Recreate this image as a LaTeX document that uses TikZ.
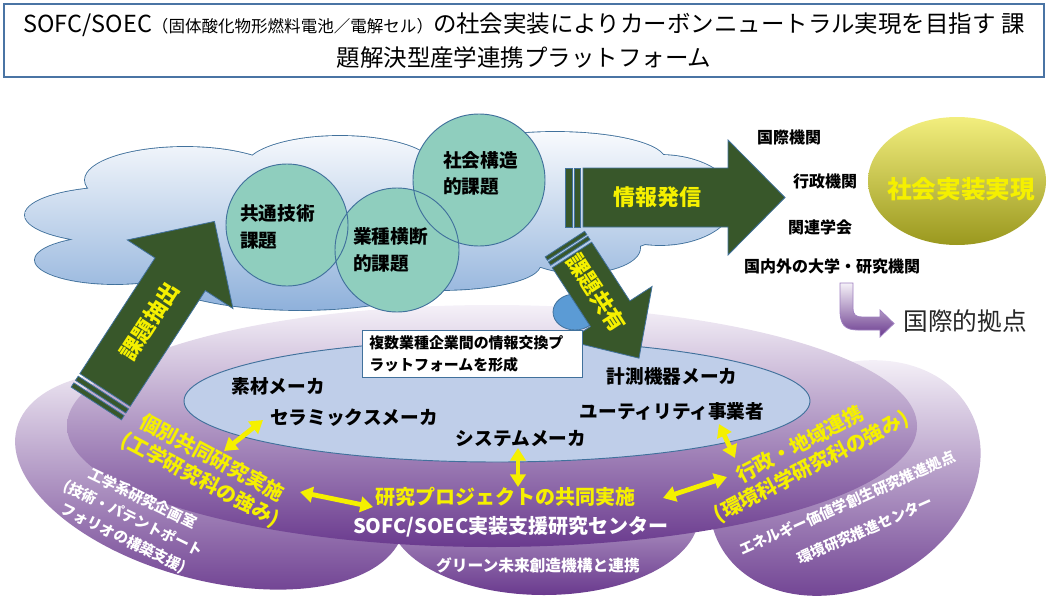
\documentclass[tikz,border=0pt]{standalone}
\usepackage{fontspec}
\setmainfont{Noto Sans CJK JP}
\usetikzlibrary{arrows.meta}
\definecolor{agreen}{HTML}{38572A}
\definecolor{aline}{HTML}{41719C}
\definecolor{ayel}{HTML}{F5F000}
\definecolor{circfill}{HTML}{8FCEBE}
\definecolor{cloudtop}{HTML}{F8FAFD}
\definecolor{cloudbot}{HTML}{8FB1DB}
\definecolor{innerblue}{HTML}{BFCEE9}
\definecolor{purtop}{HTML}{F5F1F8}
\definecolor{purmid}{HTML}{B093C8}
\definecolor{purbot}{HTML}{6A3A8E}
\definecolor{olivetop}{HTML}{F2EE7E}
\definecolor{olivebot}{HTML}{9A981E}
\definecolor{blobblue}{HTML}{5B9BD5}
\definecolor{titleline}{HTML}{4A74A4}
\definecolor{bentline}{HTML}{9F80C0}
\begin{document}
\begin{tikzpicture}[x=0.75pt,y=-0.75pt,
  blockarr/.style={fill=agreen, draw=aline, line width=0.6pt},
  arrtxt/.style={text=ayel, font=\bfseries\fontsize{16.5}{16.5}\selectfont, inner sep=0pt},
  lbl/.style={font=\bfseries\fontsize{14}{20}\selectfont, inner sep=0pt, text=black},
  rlbl/.style={font=\bfseries\fontsize{12}{12}\selectfont, inner sep=0pt, text=black},
  ytxt/.style={font=\bfseries\fontsize{15}{18.5}\selectfont, inner sep=0pt, text=ayel, align=center},
  wtxt/.style={font=\bfseries\fontsize{11}{16.5}\selectfont, inner sep=0pt, text=white, align=center},
  yarr/.style={draw=ayel, line width=3.6pt, {Triangle[length=9.5pt,width=11.5pt]}-{Triangle[length=9.5pt,width=11.5pt]}},
  circ/.style={circle, fill=circfill, inner sep=0pt}
]
\useasboundingbox (0,0) rectangle (1049,596);

% title
\node (title) [draw=titleline, line width=0.8pt, minimum width=780pt, minimum height=54.75pt,
  align=center, font=\fontsize{17.6}{26}\selectfont, inner sep=0pt] at (524,40.5)
  {SOFC/SOEC{\fontsize{12.4}{12}\selectfont （固体酸化物形燃料電池／電解セル）}の社会実装によりカーボンニュートラル実現を目指す 課\\題解決型産学連携プラットフォーム};

% purple lobes
\shade[rotate around={-15:(210,480)}, top color=purtop, middle color=purmid, bottom color=purbot] (210,480) ellipse [x radius=200, y radius=100];
\shade[top color=purtop, middle color=purmid, bottom color=purbot] (544,515) ellipse [x radius=155, y radius=80];
\shade[rotate around={28:(845,478)}, top color=purtop, middle color=purmid, bottom color=purbot] (845,478) ellipse [x radius=142, y radius=110];
% main purple ellipse
\shade[top color=purtop, middle color=purmid, bottom color=purbot] (492,426) ellipse [x radius=425, y radius=121];
% inner blue ellipse
\draw[fill=innerblue, draw=aline, line width=0.7pt] (497,401) ellipse [x radius=313, y radius=61];

% cloud
\draw[aline, line width=1.3pt]
  (120,215) ellipse [x radius=95, y radius=28]
  (185,180) ellipse [x radius=100, y radius=33]
  (340,168) ellipse [x radius=95, y radius=32]
  (555,160) ellipse [x radius=110, y radius=28]
  (660,200) ellipse [x radius=75, y radius=45]
  (580,248) ellipse [x radius=60, y radius=25]
  (115,260) ellipse [x radius=80, y radius=24]
  (300,270) ellipse [x radius=150, y radius=40]
  (440,265) ellipse [x radius=100, y radius=25]
  (400,215) ellipse [x radius=280, y radius=60];
\shade[top color=cloudtop, bottom color=cloudbot]
  (120,215) ellipse [x radius=95, y radius=28]
  (185,180) ellipse [x radius=100, y radius=33]
  (340,168) ellipse [x radius=95, y radius=32]
  (555,160) ellipse [x radius=110, y radius=28]
  (660,200) ellipse [x radius=75, y radius=45]
  (580,248) ellipse [x radius=60, y radius=25]
  (115,260) ellipse [x radius=80, y radius=24]
  (300,270) ellipse [x radius=150, y radius=40]
  (440,265) ellipse [x radius=100, y radius=25]
  (400,215) ellipse [x radius=280, y radius=60];
% small blob
\draw[fill=blobblue, draw=aline, line width=0.6pt] (575,312) ellipse [x radius=22, y radius=18];

% circles
\node (c1) [circ, minimum size=91.5pt] at (287,225) {};
\node (c2) [circ, minimum size=93pt] at (397,250) {};
\node (c3) [circ, minimum size=99pt] at (479,180) {};
\draw[aline, line width=0.7pt] (c1.center) circle [radius=61] (c2.center) circle [radius=62] (c3.center) circle [radius=66];
\node (t1) [lbl, anchor=west, align=left] at (240,227) {共通技術\\課題};
\node (t2) [lbl, anchor=west, align=left] at (353,250) {業種横断\\的課題};
\node (t3) [lbl, anchor=west, align=left] at (443,173.5) {社会構造\\的課題};

% arrow 課題抽出
\begin{scope}[shift={(105,390)}, rotate=57]
  \draw[blockarr] (0,-30) -- (138,-30) -- (138,-63) -- (201,0) -- (138,63) -- (138,30) -- (0,30) -- cycle;
  \draw[blockarr] (-8,-30) rectangle (-3,30);
  \draw[blockarr] (-16,-30) rectangle (-11,30);
  \node (a1t) [arrtxt, rotate=57] at (82,0) {課題抽出};
\end{scope}
% arrow 情報発信
\begin{scope}[shift={(583,197.5)}]
  \draw[blockarr] (0,-29.5) -- (145,-29.5) -- (145,-57.5) -- (202,0) -- (145,57.5) -- (145,29.5) -- (0,29.5) -- cycle;
  \draw[blockarr] (-9,-29.5) rectangle (-3,29.5);
  \draw[blockarr] (-18,-29.5) rectangle (-11,29.5);
  \node (a3t) [arrtxt] at (74,0) {情報発信};
\end{scope}
% arrow 課題共有
\begin{scope}[shift={(572,255)}, rotate=-57]
  \draw[blockarr] (0,-23.5) -- (70,-23.5) -- (70,-50) -- (123,0) -- (70,50) -- (70,23.5) -- (0,23.5) -- cycle;
  \draw[blockarr] (-7,-23.5) rectangle (-3,23.5);
  \draw[blockarr] (-13,-23.5) rectangle (-9,23.5);
  \node (a2t) [arrtxt, rotate=-57] at (45,0) {課題共有};
\end{scope}

% text box
\node (tbox) [draw=aline, fill=white, line width=0.7pt, minimum width=165pt, minimum height=35.25pt, inner sep=0pt] at (472,353.5) {};
\node (tboxt) [anchor=west, align=left, inner sep=0pt, font=\bfseries\fontsize{11.2}{16.5}\selectfont] at (369,354) {複数業種企業間の情報交換プ\\ラットフォームを形成};

% right side
\node (r1) [rlbl] at (789,137) {国際機関};
\node (r2) [rlbl] at (825,181) {行政機関};
\node (r3) [rlbl] at (820,227) {関連学会};
\node (r4) [rlbl] at (832,266) {国内外の大学・研究機関};
\shade[top color=olivetop, bottom color=olivebot] (957,181) ellipse [x radius=89, y radius=64];
\node (soc) [inner sep=0pt, text=ayel, font=\bfseries\fontsize{18.5}{18.5}\selectfont] at (961,189) {社会実装実現};
% bent arrow
\shade[top color=purtop, bottom color=purbot, draw=bentline, line width=0.6pt]
  (840,283) -- (840,310) .. controls (840,325) and (845,330) .. (858,330) -- (880,330) -- (880,337) -- (894,323.5) -- (880,310) -- (880,317) -- (862,317) .. controls (856,317) and (853,315) .. (853,308) -- (853,283) -- cycle;
\node (intl) [inner sep=0pt, text=black!85, font=\fontsize{18.5}{18.5}\selectfont] at (965,321) {国際的拠点};

% inner ellipse labels
\node (m1) [lbl] at (278,386) {素材メーカ};
\node (m2) [lbl] at (354,418) {セラミックスメーカ};
\node (m3) [lbl] at (521,439) {システムメーカ};
\node (m4) [lbl] at (672,376) {計測機器メーカ};
\node (m5) [lbl] at (672,411) {ユーティリティ事業者};

% yellow texts
\node (y1) [ytxt] at (505,497) {研究プロジェクトの共同実施};
\node (y2) [ytxt, rotate=-28] at (206,469) {個別共同研究実施\\(工学研究科の強み)};
\node (y3) [ytxt, rotate=27.5] at (806,456) {行政・地域連携\\(環境科学研究科の強み)};

% white texts
\node (w1) [wtxt, font=\bfseries\fontsize{15}{15}\selectfont] at (511,527) {SOFC/SOEC実装支援研究センター};
\node (w2) [wtxt, font=\bfseries\fontsize{11.8}{11.8}\selectfont] at (538,565) {グリーン未来創造機構と連携};
\node (w3) [wtxt, rotate=-26] at (133,519) {工学系研究企画室\\(技術・パテントポート\\フォリオの構築支援)};
\node (w4) [wtxt, rotate=24] at (847,503) {エネルギー価値学創生研究推進拠点};
\node (w5) [wtxt, rotate=24] at (865,530) {環境研究推進センター};

% yellow double arrows
\coordinate (a1s) at (263,420); \coordinate (a1e) at (224,451);
\coordinate (a2s) at (518,448); \coordinate (a2e) at (518,487);
\coordinate (a3s) at (300,492); \coordinate (a3e) at (373,507);
\coordinate (a4s) at (663,498); \coordinate (a4e) at (727,477);
\coordinate (a5s) at (719,424); \coordinate (a5e) at (735,458);
\draw[yarr] (a1s) -- (a1e);
\draw[yarr] (a2s) -- (a2e);
\draw[yarr] (a3s) -- (a3e);
\draw[yarr] (a4s) -- (a4e);
\draw[yarr] (a5s) -- (a5e);
\end{tikzpicture}
\end{document}
